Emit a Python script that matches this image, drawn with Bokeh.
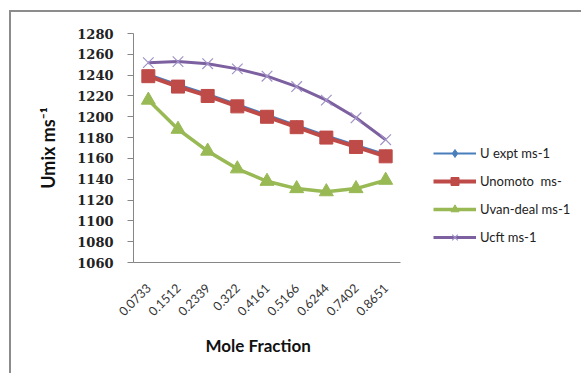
import math
from bokeh.plotting import figure
from bokeh.models import Legend, LegendItem, FixedTicker, Range1d, Title
from bokeh.embed import file_html
from bokeh.resources import INLINE

mole_fraction = ["0.0733", "0.1512", "0.2339", "0.322", "0.4161", "0.5166", "0.6244", "0.7402", "0.8651"]
u_expt = [1241, 1231, 1222, 1212, 1202, 1192, 1182, 1173, 1164]
u_nomoto = [1239, 1229, 1220, 1210, 1200, 1190, 1180, 1171, 1162]
u_vandeal = [1216, 1188, 1167, 1150, 1138, 1131, 1128, 1131, 1139]
u_cft = [1252, 1253, 1251, 1246, 1239, 1229, 1216, 1199, 1178]
y_ticks = list(range(1060, 1281, 20))

# category slots: each category centred in its own unit-wide slot
n = len(mole_fraction)
x_pos = [i + 0.5 for i in range(n)]

OX, OY = 11, 12  # outer chart border offset (margin + border width)
FRAME_LEFT, FRAME_RIGHT_AXIS = 133, 400
unit_px = (FRAME_RIGHT_AXIS - FRAME_LEFT) / n
frame_w = 583 - FRAME_LEFT
x_end = frame_w / unit_px

p = figure(width=583 - OX, height=375 - OY, x_range=Range1d(0, x_end), y_range=Range1d(1060, 1280),
           output_backend="svg", toolbar_location=None,
           min_border_left=FRAME_LEFT - OX, min_border_right=0, min_border_top=33 - OY,
           min_border_bottom=113)
p.margin = (10, 0, 0, 9)
p.styles = {"border-left": "2px solid #8C8C8C", "border-top": "2px solid #8C8C8C"}
p.outline_line_color = None
p.xgrid.visible = False
p.ygrid.visible = False

# axes
p.yaxis.ticker = FixedTicker(ticks=y_ticks)
p.yaxis.minor_tick_line_color = None
p.yaxis.major_tick_out = 6
p.yaxis.major_tick_in = 0
p.yaxis.axis_line_color = "#868686"
p.yaxis.major_tick_line_color = "#868686"
p.yaxis.major_label_text_font = "DejaVu Serif"
p.yaxis.major_label_text_font_style = "bold"
p.yaxis.major_label_text_font_size = "13px"
p.yaxis.major_label_text_color = "#222222"
p.yaxis.major_label_standoff = 14
p.yaxis.axis_label = "Umix ms\u207b\u00b9"
p.yaxis.axis_label_text_font = "Lato"
p.yaxis.axis_label_text_font_style = "bold"
p.yaxis.axis_label_text_font_size = "18px"
p.yaxis.axis_label_text_color = "#111111"
p.yaxis.axis_label_standoff = 15

p.xaxis.ticker = FixedTicker(ticks=x_pos)
p.xaxis.major_label_overrides = {x: lab for x, lab in zip(x_pos, mole_fraction)}
p.xaxis.bounds = (0, n)
p.xaxis.axis_line_color = "#868686"
p.xaxis.major_tick_line_color = None
p.xaxis.minor_tick_line_color = None
p.xaxis.major_label_orientation = math.pi / 4
p.xaxis.major_label_text_font = "Lato"
p.xaxis.major_label_text_font_size = "12.5px"
p.xaxis.major_label_text_color = "#333333"
p.xaxis.major_label_standoff = 17

xtitle = Title(text="Mole Fraction", align="left", offset=72, standoff=18,
               text_font="Lato", text_font_style="bold", text_font_size="17px",
               text_color="#111111")
p.add_layout(xtitle, "below")

# series
blue, red, green, purple = "#4A7EBB", "#BE4B48", "#98B954", "#7D60A0"
l1 = p.line(x_pos, u_expt, line_color=blue, line_width=2)
m1 = p.scatter(x_pos, u_expt, marker="diamond", size=9, fill_color=blue, line_color=blue)
l2 = p.line(x_pos, u_nomoto, line_color=red, line_width=4)
m2 = p.scatter(x_pos, u_nomoto, marker="square", size=13, fill_color=red, line_color=red)
l3 = p.line(x_pos, u_vandeal, line_color=green, line_width=3.5)
m3 = p.scatter(x_pos, u_vandeal, marker="triangle", size=14, fill_color=green, line_color=green)
l4 = p.line(x_pos, u_cft, line_color=purple, line_width=3)
m4 = p.scatter(x_pos, u_cft, marker="x", size=15, line_color="#A193C8", line_width=1.2)

legend = Legend(items=[
    LegendItem(label="U expt ms-1", renderers=[l1, m1]),
    LegendItem(label="Unomoto  ms-", renderers=[l2, m2]),
    LegendItem(label="Uvan-deal ms-1", renderers=[l3, m3]),
    LegendItem(label="Ucft ms-1", renderers=[l4, m4]),
], location=(300, 15))
legend.border_line_color = None
legend.background_fill_alpha = 0
legend.padding = 0
legend.margin = 0
legend.spacing = 8
legend.glyph_width = 43
legend.glyph_height = 20
legend.label_height = 20
legend.label_standoff = 4
legend.label_text_font = "Lato"
legend.label_text_font_size = "13px"
legend.label_text_color = "#222222"
p.add_layout(legend, "center")

open("out.html", "w").write(file_html(p, INLINE))
